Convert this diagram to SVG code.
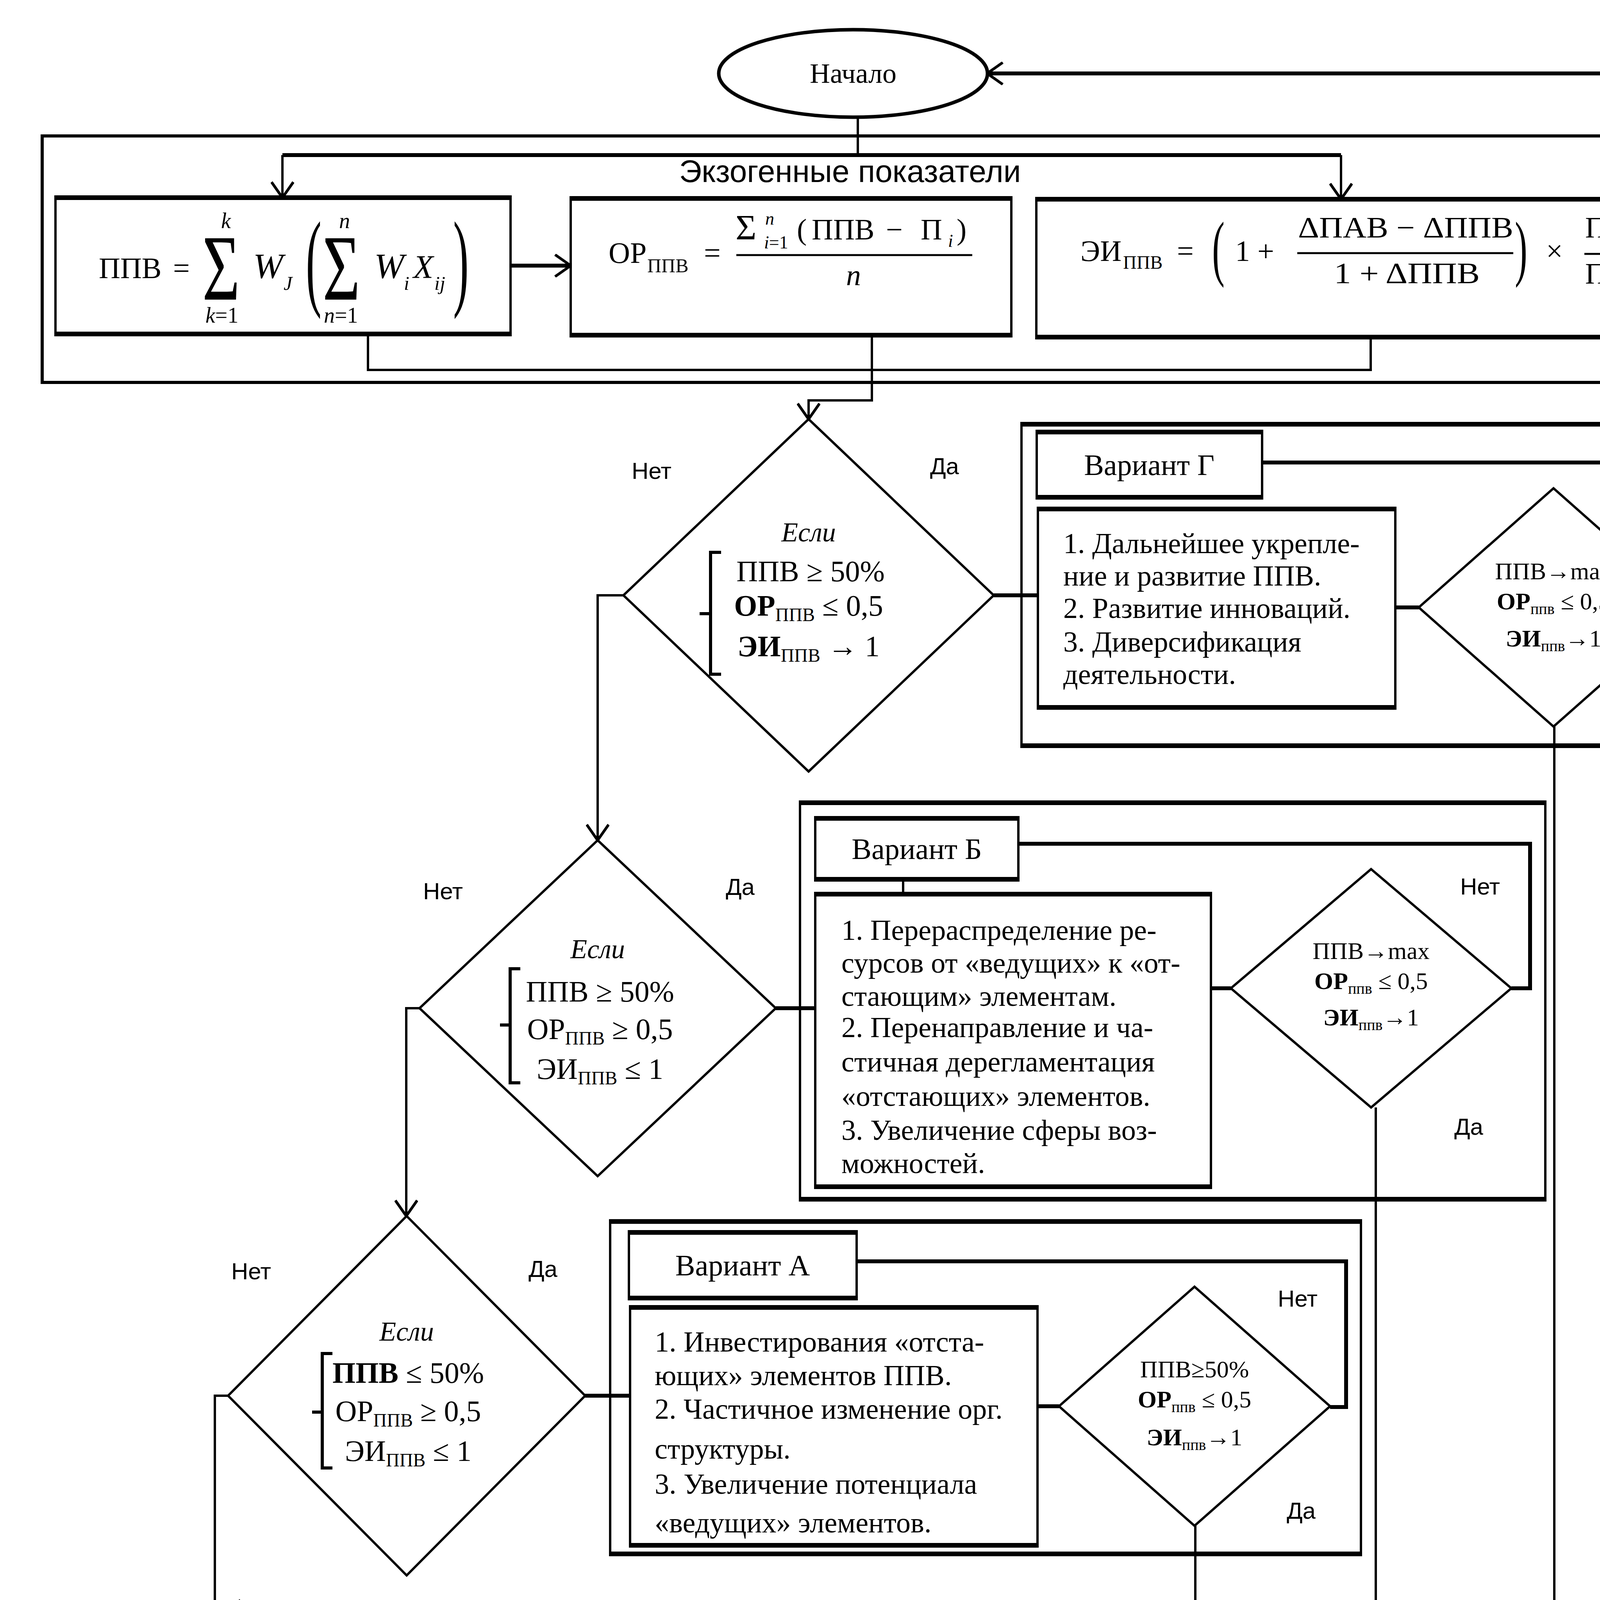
<svg xmlns="http://www.w3.org/2000/svg" width="4596" height="5665" viewBox="0 0 4596 5665">
<defs>
<style>
.t{font-family:"Liberation Serif","Times New Roman",serif;fill:#000}
.s{font-family:"Liberation Sans",Arial,sans-serif;fill:#000;font-size:60px}
.i{font-style:italic}
.b{font-weight:bold}
.bx{fill:#fff;stroke:#000;stroke-width:6}
.fr{fill:none;stroke:#000;stroke-width:6}
.hb{fill:none;stroke:#000;stroke-width:12}
.dm{fill:#fff;stroke:#000;stroke-width:6}
.el{fill:#fff;stroke:#000;stroke-width:9}
.ln{fill:none;stroke:#000;stroke-width:6}
.th{fill:none;stroke:#000;stroke-width:10}
.br{fill:none;stroke:#000;stroke-width:8}
.tx{font-size:74px}
.cd{font-size:76px}
.sd{font-size:62px}
</style>
<marker id="arr" viewBox="0 0 44 60" refX="42" refY="30" markerWidth="44" markerHeight="60" markerUnits="userSpaceOnUse" orient="auto">
<path d="M2,2 L42,30 L2,58" fill="none" stroke="#000" stroke-width="7"/>
</marker>
<clipPath id="clipV"><rect x="1143" y="4329" width="985" height="621"/></clipPath>
</defs>
<rect width="4596" height="5665" fill="#fff"/>

<g id="exo-frame">
<rect x="108" y="348" width="4285" height="631" fill="none" stroke="#000" stroke-width="8"/>
<text class="s" x="2176" y="466" text-anchor="middle" style="font-size:80px">Экзогенные показатели</text>
</g>
<g id="frame-G">
<rect class="fr" x="2615" y="1086" width="1783" height="823"/>
<path class="hb" d="M2612,1086 H4401 M2612,1909 H4401"/>
</g>
<g id="frame-B">
<rect class="fr" x="2048" y="2055" width="1908" height="1015"/>
<path class="hb" d="M2045,2055 H3959 M2045,3070 H3959"/>
</g>
<g id="frame-A">
<rect class="fr" x="1562" y="3127" width="1922" height="851"/>
<path class="hb" d="M1559,3127 H3487 M1559,3978 H3487"/>
</g>
<g id="frame-V">
<rect class="fr" x="1100" y="4102" width="1898" height="921"/>
<path class="hb" d="M1097,4102 H3001 M1097,5023 H3001"/>
</g>

<g id="connectors">
<path class="th" d="M3709,5421 H4432 V188 H2527" marker-end="url(#arr)"/>
<path class="ln" d="M2196,300 V397"/>
<path class="th" d="M723,397 H3433"/>
<path class="ln" d="M723,397 V506" marker-end="url(#arr)"/>
<path class="ln" d="M3433,397 V510" marker-end="url(#arr)"/>
<path class="th" d="M1307,680 H1461" marker-end="url(#arr)"/>
<path class="ln" d="M942,855 V947 H3509 V863"/>
<path class="ln" d="M2232,858 V1025 H2070 V1073" marker-end="url(#arr)"/>
<path class="ln" d="M1596,1524 H1530 V2151" marker-end="url(#arr)"/>
<path class="ln" d="M1074,2581 H1040 V3113" marker-end="url(#arr)"/>
<path class="ln" d="M584,3573 H550 V4162"/>
<path class="th" d="M2544,1524 H2657"/>
<path class="th" d="M1986,2581 H2087"/>
<path class="th" d="M1498,3573 H1613"/>
<path class="th" d="M1063,4552 H1143"/>
<path class="th" d="M3572,1555 H3632"/>
<path class="th" d="M3100,2530 H3151"/>
<path class="th" d="M2656,3600 H2711"/>
<path class="th" d="M2128,4583 H2183"/>
<path class="th" d="M3231,1184 H4373 V1555 H4322"/>
<path class="th" d="M2607,2160 H3917 V2530 H3869"/>
<path class="th" d="M2193,3229 H3446 V3602 H3405"/>
<path class="th" d="M1713,4211 H2964 V4583 H2915"/>
<path class="ln" d="M2312,2251 V2289"/>
<path class="ln" d="M3979,1860 V5094"/>
<path class="ln" d="M3522,2835 V5094"/>
<path class="ln" d="M3060,3906 V5094"/>
<path class="ln" d="M2551,4888 V5094"/>
<path class="ln" d="M3352,5258 V5314" marker-end="url(#arr)"/>
</g>

<g id="start">
<ellipse class="el" cx="2184" cy="188" rx="344" ry="112"/>
<text class="t" x="2184" y="212" text-anchor="middle" style="font-size:72px">Начало</text>
</g>

<g id="f-ppv">
<rect class="bx" x="142" y="506" width="1165" height="349"/>
<path class="hb" d="M139,506 H1310 M139,855 H1310"/>
<text class="t" x="253" y="712" font-size="76">ППВ</text>
<text class="t" x="443" y="712" font-size="76">=</text>
<text class="t" transform="translate(518,767) scale(1.1,1.6)" font-size="150">Σ</text>
<text class="t i" x="566" y="584" font-size="56">k</text>
<text class="t" x="526" y="826" font-size="56"><tspan class="i">k</tspan>=1</text>
<text class="t i" x="648" y="712" font-size="92">W</text>
<text class="t i" x="726" y="742" font-size="50">J</text>
<text class="t" transform="translate(783,758) scale(1.0,2.3)" font-size="120">(</text>
<text class="t" transform="translate(826,767) scale(1.1,1.6)" font-size="150">Σ</text>
<text class="t i" x="868" y="584" font-size="56">n</text>
<text class="t" x="829" y="826" font-size="56"><tspan class="i">n</tspan>=1</text>
<text class="t i" x="958" y="712" font-size="92">W</text>
<text class="t i" x="1034" y="742" font-size="50">i</text>
<text class="t i" x="1058" y="712" font-size="84">X</text>
<text class="t i" x="1112" y="742" font-size="50">ij</text>
<text class="t" transform="translate(1160,758) scale(1.0,2.3)" font-size="120">)</text>
</g>

<g id="f-or">
<rect class="bx" x="1461" y="508" width="1128" height="350"/>
<path class="hb" d="M1458,508 H2592 M1458,858 H2592"/>
<text class="t" x="1558" y="673" font-size="76">ОР</text>
<text class="t" x="1657" y="697" font-size="50">ППВ</text>
<text class="t" x="1802" y="673" font-size="76">=</text>
<text class="t" x="1883" y="613" font-size="92">Σ</text>
<text class="t i" x="1959" y="575" font-size="46">n</text>
<text class="t" x="1956" y="636" font-size="46"><tspan class="i">i</tspan>=1</text>
<text class="t" x="2040" y="613" font-size="76">(</text>
<text class="t" x="2078" y="613" font-size="76">ППВ</text>
<text class="t" x="2268" y="613" font-size="76">−</text>
<text class="t" x="2357" y="613" font-size="76">П</text>
<text class="t i" x="2427" y="632" font-size="46">i</text>
<text class="t" x="2449" y="613" font-size="76">)</text>
<path d="M1885,653 H2489" stroke="#000" stroke-width="5"/>
<text class="t i" x="2166" y="730" font-size="76">n</text>
</g>

<g id="f-ei">
<rect class="bx" x="2653" y="510" width="1712" height="353"/>
<path class="hb" d="M2650,510 H4368 M2650,863 H4368"/>
<text class="t" x="2766" y="668" font-size="76">ЭИ</text>
<text class="t" x="2875" y="688" font-size="48">ППВ</text>
<text class="t" x="3013" y="668" font-size="76">=</text>
<text class="t" transform="translate(3103,697) scale(0.8,1.55)" font-size="120">(</text>
<text class="t" x="3162" y="668" font-size="76">1 +</text>
<text class="t" x="3323" y="608" font-size="76" textLength="551" lengthAdjust="spacingAndGlyphs">ΔПАВ − ΔППВ</text>
<path d="M3321,648 H3874" stroke="#000" stroke-width="5"/>
<text class="t" x="3415" y="725" font-size="76" textLength="373" lengthAdjust="spacingAndGlyphs">1 + ΔППВ</text>
<text class="t" transform="translate(3878,697) scale(0.8,1.55)" font-size="120">)</text>
<text class="t" x="3958" y="668" font-size="76">×</text>
<text class="t" x="4058" y="608" font-size="76">ПАВ</text>
<text class="t" x="4220" y="626" font-size="46">0</text>
<path d="M4056,650 H4253" stroke="#000" stroke-width="5"/>
<text class="t" x="4058" y="726" font-size="76">ППВ</text>
<text class="t" x="4220" y="744" font-size="46">0</text>
</g>

<g id="cond-G">
<polygon class="dm" points="2070,1073 2544,1524 2070,1975 1596,1524"/>
<path class="br" d="M1846,1414 H1819 V1726 H1846 M1819,1571 H1791"/>
<text class="t i" x="2070" y="1386" text-anchor="middle" style="font-size:70px">Если</text>
<text class="t cd" x="2075" y="1488" text-anchor="middle">ППВ ≥ 50%</text>
<text class="t cd" x="2070" y="1576" text-anchor="middle"><tspan class="b">ОР</tspan><tspan font-size="48" dy="14">ППВ</tspan><tspan dy="-14"> ≤ 0,5</tspan></text>
<text class="t cd" x="2070" y="1680" text-anchor="middle"><tspan class="b">ЭИ</tspan><tspan font-size="48" dy="14">ППВ</tspan><tspan dy="-14"> → 1</tspan></text>
<text class="s" x="1668" y="1226" text-anchor="middle">Нет</text>
<text class="s" x="2418" y="1214" text-anchor="middle">Да</text>
</g>
<g id="cond-B">
<polygon class="dm" points="1530,2151 1986,2581 1530,3011 1074,2581"/>
<path class="br" d="M1332,2480 H1306 V2772 H1332 M1306,2624 H1280"/>
<text class="t i" x="1530" y="2453" text-anchor="middle" style="font-size:70px">Если</text>
<text class="t cd" x="1536" y="2564" text-anchor="middle">ППВ ≥ 50%</text>
<text class="t cd" x="1536" y="2660" text-anchor="middle">ОР<tspan font-size="48" dy="14">ППВ</tspan><tspan dy="-14"> ≥ 0,5</tspan></text>
<text class="t cd" x="1536" y="2762" text-anchor="middle">ЭИ<tspan font-size="48" dy="14">ППВ</tspan><tspan dy="-14"> ≤ 1</tspan></text>
<text class="s" x="1134" y="2302" text-anchor="middle">Нет</text>
<text class="s" x="1895" y="2291" text-anchor="middle">Да</text>
</g>
<g id="cond-A">
<polygon class="dm" points="1041,3113 1498,3573 1041,4033 584,3573"/>
<path class="br" d="M851,3465 H825 V3758 H851 M825,3615 H799"/>
<text class="t i" x="1041" y="3432" text-anchor="middle" style="font-size:70px">Если</text>
<text class="t cd" x="1045" y="3540" text-anchor="middle"><tspan class="b">ППВ</tspan>  ≤ 50%</text>
<text class="t cd" x="1045" y="3638" text-anchor="middle">ОР<tspan font-size="48" dy="14">ППВ</tspan><tspan dy="-14"> ≥ 0,5</tspan></text>
<text class="t cd" x="1045" y="3740" text-anchor="middle">ЭИ<tspan font-size="48" dy="14">ППВ</tspan><tspan dy="-14"> ≤ 1</tspan></text>
<text class="s" x="643" y="3275" text-anchor="middle">Нет</text>
<text class="s" x="1390" y="3269" text-anchor="middle">Да</text>
</g>
<g id="cond-V">
<polygon class="dm" points="613,4098 1063,4552 613,5006 163,4552"/>
<path class="br" d="M409,4439 H383 V4736 H409 M383,4586 H357"/>
<text class="t i" x="613" y="4413" text-anchor="middle" style="font-size:70px">Если</text>
<text class="t cd" x="619" y="4522" text-anchor="middle">ППВ ≤ 50%</text>
<text class="t cd" x="619" y="4614" text-anchor="middle">ОР<tspan font-size="48" dy="14">ППВ</tspan><tspan dy="-14"> ≤ 0,5</tspan></text>
<text class="t cd" x="619" y="4720" text-anchor="middle">ЭИ<tspan font-size="48" dy="14">ППВ</tspan><tspan dy="-14">→ 1</tspan></text>
<text class="s" x="243" y="4234" text-anchor="middle">Нет</text>
<text class="s" x="961" y="4221" text-anchor="middle">Да</text>
</g>

<g id="title-G">
<rect class="bx" x="2654" y="1106" width="577" height="167"/>
<path class="hb" d="M2651,1106 H3234 M2651,1273 H3234"/>
<text class="t" x="2942" y="1216" text-anchor="middle" style="font-size:76px">Вариант Г</text>
</g>
<g id="text-G">
<rect class="bx" x="2657" y="1303" width="915" height="508"/>
<path class="hb" d="M2654,1303 H3575 M2654,1811 H3575"/>
<text class="t tx" x="2722" y="1416">1. Дальнейшее укрепле-</text>
<text class="t tx" x="2722" y="1499">ние и развитие  ППВ.</text>
<text class="t tx" x="2722" y="1582">2. Развитие инноваций.</text>
<text class="t tx" x="2722" y="1668">3. Диверсификация</text>
<text class="t tx" x="2722" y="1751">деятельности.</text>
</g>
<g id="check-G">
<polygon class="dm" points="3977,1250 4322,1555 3977,1860 3632,1555"/>
<text class="t sd" x="3977" y="1483" text-anchor="middle">ППВ→max</text>
<text class="t sd" x="3977" y="1560" text-anchor="middle"><tspan class="b">ОР</tspan><tspan font-size="40" dy="12">ппв</tspan><tspan dy="-12"> ≤ 0,5</tspan></text>
<text class="t sd" x="3977" y="1655" text-anchor="middle"><tspan class="b">ЭИ</tspan><tspan font-size="40" dy="12">ппв</tspan><tspan dy="-12">→1</tspan></text>
<text class="s" x="4255" y="1315" text-anchor="middle">Нет</text>
<text class="s" x="4270" y="1817" text-anchor="middle">Да</text>
</g>

<g id="title-B">
<rect class="bx" x="2087" y="2095" width="520" height="156"/>
<path class="hb" d="M2084,2095 H2610 M2084,2251 H2610"/>
<text class="t" x="2347" y="2199" text-anchor="middle" style="font-size:76px">Вариант Б</text>
</g>
<g id="text-B">
<rect class="bx" x="2087" y="2289" width="1013" height="749"/>
<path class="hb" d="M2084,2289 H3103 M2084,3038 H3103"/>
<text class="t tx" x="2154" y="2406">1. Перераспределение ре-</text>
<text class="t tx" x="2154" y="2490">сурсов от «ведущих» к «от-</text>
<text class="t tx" x="2154" y="2575">стающим» элементам.</text>
<text class="t tx" x="2154" y="2655">2. Перенаправление и ча-</text>
<text class="t tx" x="2154" y="2743">стичная дерегламентация</text>
<text class="t tx" x="2154" y="2831">«отстающих» элементов.</text>
<text class="t tx" x="2154" y="2918">3. Увеличение сферы воз-</text>
<text class="t tx" x="2154" y="3003">можностей.</text>
</g>
<g id="check-B">
<polygon class="dm" points="3510,2225 3869,2530 3510,2835 3151,2530"/>
<text class="t sd" x="3510" y="2455" text-anchor="middle">ППВ→max</text>
<text class="t sd" x="3510" y="2532" text-anchor="middle"><tspan class="b">ОР</tspan><tspan font-size="40" dy="12">ппв</tspan><tspan dy="-12"> ≤ 0,5</tspan></text>
<text class="t sd" x="3510" y="2625" text-anchor="middle"><tspan class="b">ЭИ</tspan><tspan font-size="40" dy="12">ппв</tspan><tspan dy="-12">→1</tspan></text>
<text class="s" x="3789" y="2290" text-anchor="middle">Нет</text>
<text class="s" x="3760" y="2905" text-anchor="middle">Да</text>
</g>

<g id="title-A">
<rect class="bx" x="1610" y="3155" width="583" height="168"/>
<path class="hb" d="M1607,3155 H2196 M1607,3323 H2196"/>
<text class="t" x="1901" y="3265" text-anchor="middle" style="font-size:76px">Вариант А</text>
</g>
<g id="text-A">
<rect class="bx" x="1613" y="3347" width="1043" height="609"/>
<path class="hb" d="M1610,3347 H2659 M1610,3956 H2659"/>
<text class="t tx" x="1676" y="3460">1. Инвестирования «отста-</text>
<text class="t tx" x="1676" y="3546">ющих» элементов ППВ.</text>
<text class="t tx" x="1676" y="3632">2. Частичное изменение орг.</text>
<text class="t tx" x="1676" y="3734">структуры.</text>
<text class="t tx" x="1676" y="3824">3. Увеличение потенциала</text>
<text class="t tx" x="1676" y="3923">«ведущих» элементов.</text>
</g>
<g id="check-A">
<polygon class="dm" points="3058,3294 3405,3600 3058,3906 2711,3600"/>
<text class="t sd" x="3058" y="3526" text-anchor="middle">ППВ≥50%</text>
<text class="t sd" x="3058" y="3603" text-anchor="middle"><tspan class="b">ОР</tspan><tspan font-size="40" dy="12">ппв</tspan><tspan dy="-12"> ≤ 0,5</tspan></text>
<text class="t sd" x="3058" y="3700" text-anchor="middle"><tspan class="b">ЭИ</tspan><tspan font-size="40" dy="12">ппв</tspan><tspan dy="-12">→1</tspan></text>
<text class="s" x="3322" y="3345" text-anchor="middle">Нет</text>
<text class="s" x="3331" y="3888" text-anchor="middle">Да</text>
</g>

<g id="title-V">
<rect class="bx" x="1143" y="4141" width="570" height="166"/>
<path class="hb" d="M1140,4141 H1716 M1140,4307 H1716"/>
<text class="t" x="1428" y="4250" text-anchor="middle" style="font-size:76px">Вариант В</text>
</g>
<g id="text-V">
<rect class="bx" x="1143" y="4329" width="985" height="659"/>
<path class="hb" d="M1140,4329 H2131 M1140,4988 H2131"/>
<g clip-path="url(#clipV)">
<text class="t tx" x="1210" y="4444">1. Увеличение потенциала</text>
<text class="t tx" x="1210" y="4530">отдельных элементов с це-</text>
<text class="t tx" x="1210" y="4616">лью выделения «лидера».</text>
<text class="t tx" x="1210" y="4702">2. Организационные изме-</text>
<text class="t tx" x="1210" y="4792">нения, кадровые переста-</text>
<text class="t tx" x="1210" y="4875">новки, инновационная</text>
<text class="t tx" x="1210" y="4960">деятельность.</text>
</g>
</g>
<g id="check-V">
<polygon class="dm" points="2549,4278 2915,4583 2549,4888 2183,4583"/>
<text class="t sd" x="2549" y="4510" text-anchor="middle">ППВ≥50%</text>
<text class="t sd" x="2549" y="4590" text-anchor="middle"><tspan class="b">ОР</tspan><tspan font-size="40" dy="12">ппв</tspan><tspan dy="-12"> ≤ 0,5</tspan></text>
<text class="t sd" x="2549" y="4681" text-anchor="middle"><tspan class="b">ЭИ</tspan><tspan font-size="40" dy="12">ппв</tspan><tspan dy="-12">→1</tspan></text>
<text class="s" x="2826" y="4329" text-anchor="middle">Нет</text>
<text class="s" x="2839" y="4872" text-anchor="middle">Да</text>
</g>

<g id="endo">
<rect class="bx" x="2370" y="5094" width="1935" height="164"/>
<path class="hb" d="M2367,5094 H4308 M2367,5258 H4308"/>
<text class="t" x="3330" y="5204" text-anchor="middle" style="font-size:78px">Эндогенные показатели</text>
</g>
<g id="end">
<ellipse class="el" cx="3360" cy="5424" rx="349" ry="110"/>
<text class="t" x="3358" y="5448" text-anchor="middle" style="font-size:72px">Окончание</text>
</g>
</svg>
